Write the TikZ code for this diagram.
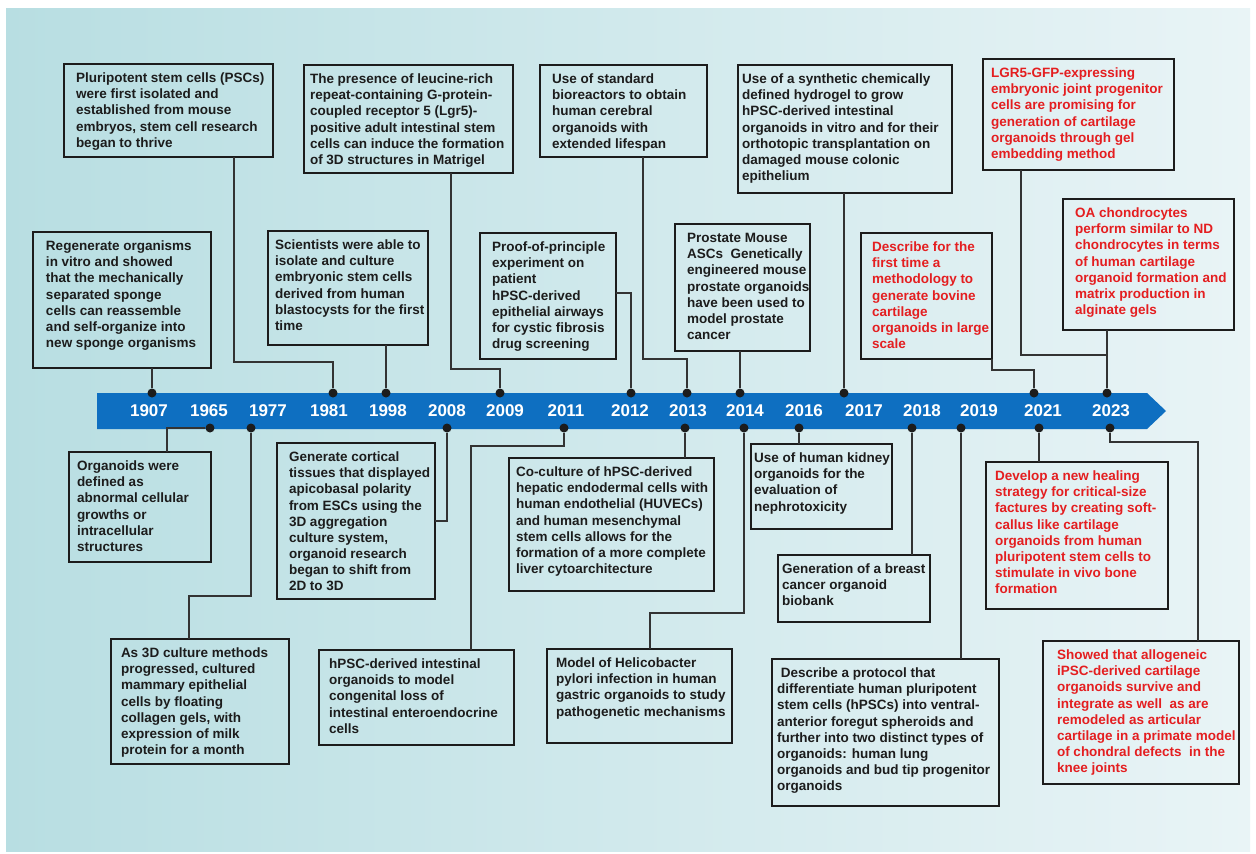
\documentclass[tikz,border=0pt]{standalone}
\usepackage{fontspec}
\setmainfont{Liberation Sans}
\usepackage{tikz}
\definecolor{barblue}{HTML}{0E6FC1}
\definecolor{bgleft}{HTML}{B8DEE2}
\definecolor{bgright}{HTML}{E9F4F6}
\definecolor{ink}{HTML}{1C1C1C}
\definecolor{hired}{HTML}{E41E20}
\newcommand{\evfont}{\fontsize{13.5}{16.1}\selectfont\bfseries}
% box text: width, left pad, lines
\newcommand{\evtxt}[3]{\makebox[#1pt][l]{\hspace*{#2pt}\begin{tabular}[t]{@{}l@{}}#3\end{tabular}}}
\tikzset{
  evt/.style={rectangle,draw=ink,line width=2.4pt,inner sep=0pt,outer sep=0pt,
    anchor=north west,text height=18.7pt,font=\evfont,text=ink},
  newevt/.style={evt,text=hired},
  dot/.style={circle,fill=ink,inner sep=0pt,minimum size=9pt},
  yr/.style={text=white,font=\fontsize{17}{20}\selectfont\bfseries},
  lnk/.style={draw=ink!90,line width=1.8pt},
}
\begin{document}
\begin{tikzpicture}[x=1pt,y=-1pt]
  \useasboundingbox (0,0) rectangle (1256,854);
  \fill[white] (0,0) rectangle (1256,854);
  \shade[left color=bgleft,right color=bgright] (6,8) rectangle (1250,851);
  % timeline bar
  \fill[barblue] (97,393) -- (1147,393) -- (1166,411) -- (1147,429) -- (97,429) -- cycle;
  \foreach \yr/\x in {1907/149,1965/209,1977/268,1981/329,1998/388,2008/447,2009/505,2011/566,
    2012/630,2013/688,2014/745,2016/804,2017/864,2018/922,2019/979,2021/1043,2023/1111}
    \node[yr] (y\yr) at (\x,411) {\yr};
  \foreach \yr/\x in {1907/152,1981/333,1998/386,2009/500,2012/631,2013/687,2014/740,2017/844,2021/1034,2023/1107}
    \node[dot] (t\yr) at (\x,393) {};
  \foreach \yr/\x in {1965/210,1977/251,2008/447,2011/564,2013/685,2014/744,2016/799,2018/912,2019/961,2021/1039,2023/1110}
    \node[dot] (b\yr) at (\x,428) {};

  % events above the bar
  \node[evt,text depth=74.3pt] (pluri) at (64,64) {\evtxt{209}{12}{Pluripotent stem cells (PSCs)\\were first isolated and\\established from mouse\\embryos, stem cell research\\began to thrive}};
  \node[evt,text depth=89.3pt] (lgrcell) at (304,65) {\evtxt{209}{6}{The presence of leucine-rich\\repeat-containing G-protein-\\coupled receptor 5 (Lgr5)-\\positive adult intestinal stem\\cells can induce the formation\\of 3D structures in Matrigel}};
  \node[evt,text depth=73.3pt] (biore) at (540,65) {\evtxt{167}{12}{Use of standard\\bioreactors to obtain\\human cerebral\\organoids with\\extended lifespan}};
  \node[evt,text depth=109.3pt] (hydro) at (738,65) {\evtxt{214}{4}{Use of a synthetic chemically\\defined hydrogel to grow\\hPSC-derived intestinal\\organoids in vitro and for their\\orthotopic transplantation on\\damaged mouse colonic\\epithelium}};
  \node[newevt,text depth=92.3pt] (lgr5) at (983,59) {\evtxt{191}{8}{LGR5-GFP-expressing\\embryonic joint progenitor\\cells are promising for\\generation of cartilage\\organoids through gel\\embedding method}};
  \node[evt,text depth=117.3pt] (sponge) at (33,232) {\evtxt{178}{13}{Regenerate organisms\\in vitro and showed\\that the mechanically\\separated sponge\\cells can reassemble\\and self-organize into\\new sponge organisms}};
  \node[evt,text depth=95.3pt] (hesc) at (268,231) {\evtxt{160}{7}{Scientists were able to\\isolate and culture\\embryonic stem cells\\derived from human\\blastocysts for the first\\time}};
  \node[evt,text depth=107.3pt] (proof) at (480,233) {\evtxt{136}{12}{Proof-of-principle\\experiment on\\patient\\hPSC-derived\\epithelial airways\\for cystic fibrosis\\drug screening}};
  \node[evt,text depth=108.3pt] (prost) at (675,224) {\evtxt{135}{12}{Prostate Mouse\\ASCs\ \ Genetically\\engineered mouse\\prostate organoids\\have been used to\\model prostate\\cancer}};
  \node[newevt,text depth=107.3pt] (bovine) at (861,233) {\evtxt{131}{11}{Describe for the\\first time a\\methodology to\\generate bovine\\cartilage\\organoids in large\\scale}};
  \node[newevt,text depth=112.3pt] (oachon) at (1063,199) {\evtxt{171}{12}{OA chondrocytes\\perform similar to ND\\chondrocytes in terms\\of human cartilage\\organoid formation and\\matrix production in\\alginate gels}};

  % events below the bar
  \node[evt,text depth=91.3pt] (abnorm) at (69,452) {\evtxt{142}{8}{Organoids were\\defined as\\abnormal cellular\\growths or\\intracellular\\structures}};
  \node[evt,text depth=137.3pt] (cortex) at (277,443) {\evtxt{158}{12}{Generate cortical\\tissues that displayed\\apicobasal polarity\\from ESCs using the\\3D aggregation\\culture system,\\organoid research\\began to shift from\\2D to 3D}};
  \node[evt,text depth=106.3pt] (mammary) at (111,639) {\evtxt{178}{10}{As 3D culture methods\\progressed, cultured\\mammary epithelial\\cells by floating\\collagen gels, with\\expression of milk\\protein for a month}};
  \node[evt,text depth=76.3pt] (entero) at (319,650) {\evtxt{195}{10}{hPSC-derived intestinal\\organoids to model\\congenital loss of\\intestinal enteroendocrine\\cells}};
  \node[evt,text depth=114.3pt] (liver) at (509,458) {\evtxt{205}{7}{Co-culture of hPSC-derived\\hepatic endodermal cells with\\human endothelial (HUVECs)\\and human mesenchymal\\stem cells allows for the\\formation of a more complete\\liver cytoarchitecture}};
  \node[evt,text depth=75.3pt] (pylori) at (547,649) {\evtxt{185}{9}{Model of Helicobacter\\pylori infection in human\\gastric organoids to study\\pathogenetic mechanisms}};
  \node[evt,text depth=66.3pt] (kidney) at (751,444) {\evtxt{141}{3}{Use of human kidney\\organoids for the\\evaluation of\\nephrotoxicity}};
  \node[evt,text depth=48.3pt] (breast) at (778,555) {\evtxt{152}{4}{Generation of a breast\\cancer organoid\\biobank}};
  \node[evt,text depth=128.3pt] (lung) at (772,659) {\evtxt{227}{5}{\ Describe a protocol that\\differentiate human pluripotent\\stem cells (hPSCs) into ventral-\\anterior foregut spheroids and\\further into two distinct types of\\organoids: human lung\\organoids and bud tip progenitor\\organoids}};
  \node[newevt,text depth=128.3pt] (callus) at (986,462) {\evtxt{182}{9}{Develop a new healing\\strategy for critical-size\\factures by creating soft-\\callus like cartilage\\organoids from human\\pluripotent stem cells to\\stimulate in vivo bone\\formation}};
  \node[newevt,text depth=124.3pt] (primate) at (1043,641) {\evtxt{196}{14}{Showed that allogeneic\\iPSC-derived cartilage\\organoids survive and\\integrate as well\ \ as are\\remodeled as articular\\cartilage in a primate model\\of chondral defects\ \ in the\\knee joints}};

  % connectors above
  \draw[lnk] (t1907) -- (t1907 |- sponge.south);
  \draw[lnk] ([xshift=65.5pt]pluri.south) |- ([yshift=31pt]t1981.center) -- (t1981);
  \draw[lnk] (t1998) -- (t1998 |- hesc.south);
  \draw[lnk] ([xshift=42.5pt]lgrcell.south) |- ([yshift=24pt]t2009.center) -- (t2009);
  \draw[lnk] ([yshift=3pt]proof.east) -| (t2012);
  \draw[lnk] ([xshift=19.5pt]biore.south) |- ([yshift=34pt]t2013.center) -- (t2013);
  \draw[lnk] (t2014) -- (t2014 |- prost.south);
  \draw[lnk] (t2017) -- (t2017 |- hydro.south);
  \draw[lnk] (bovine.south east) |- ([yshift=23pt]t2021.center) -- (t2021);
  \draw[lnk] ([xshift=-57.5pt]lgr5.south) |- ([yshift=38pt]t2023.center);
  \draw[lnk] (t2023) -- (t2023 |- oachon.south);
  % connectors below
  \draw[lnk] (b1965) -| ([xshift=27pt]abnorm.north);
  \draw[lnk] (b1977) |- ([xshift=-11pt,yshift=43pt]mammary.north) -- ([xshift=-11pt]mammary.north);
  \draw[lnk] (b2008) |- (cortex.east);
  \draw[lnk] (b2011) |- ([xshift=54.5pt,yshift=204pt]entero.north) -- ([xshift=54.5pt]entero.north);
  \draw[lnk] (b2013) -- (b2013 |- liver.north);
  \draw[lnk] (b2014) |- ([xshift=10.5pt,yshift=36pt]pylori.north) -- ([xshift=10.5pt]pylori.north);
  \draw[lnk] (b2016) -- (b2016 |- kidney.north);
  \draw[lnk] (b2018) -- (b2018 |- breast.north);
  \draw[lnk] (b2019) -- (b2019 |- lung.north);
  \draw[lnk] (b2021) -- (b2021 |- callus.north);
  \draw[lnk] (b2023) |- ([xshift=57pt,yshift=199pt]primate.north) -- ([xshift=57pt]primate.north);
\end{tikzpicture}
\end{document}
